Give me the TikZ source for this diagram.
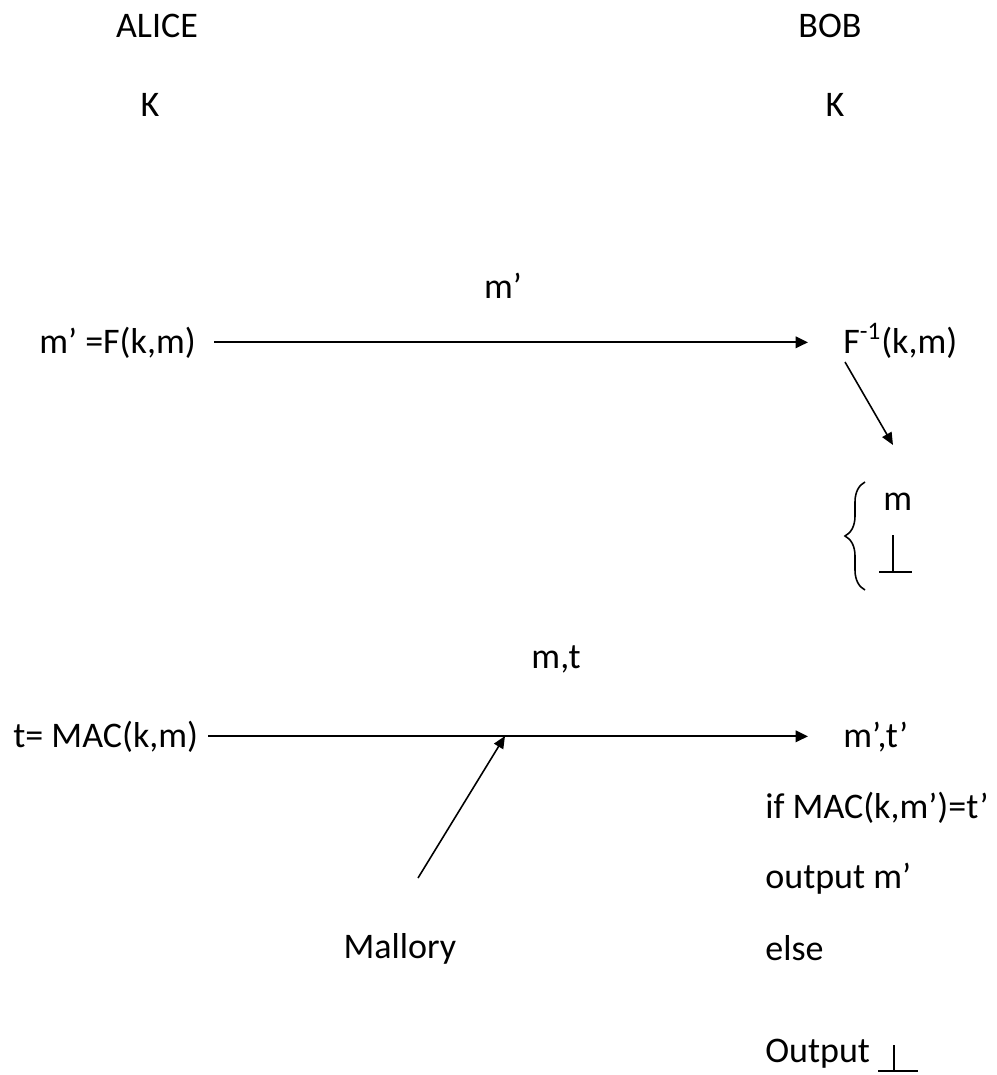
\documentclass[tikz,border=0pt]{standalone}
\usepackage{fontspec}
\setmainfont{Carlito}
\usetikzlibrary{arrows.meta, positioning, decorations.pathreplacing}

\begin{document}
\begin{tikzpicture}[x=0.02cm, y=-0.02cm,
  lbl/.style={font=\fontsize{20.5}{24}\selectfont, inner sep=0pt, anchor=base},
  arr/.style={-{Triangle[length=7pt,width=6.5pt]}, line width=1.2pt},
  thinarr/.style={-{Triangle[length=7pt,width=6pt]}, line width=0.9pt},
  brace/.style={decorate, decoration={brace, amplitude=0.4cm}, line width=0.9pt},
  perp/.style={line width=0.9pt},
]
\useasboundingbox (0,0) rectangle (997,1075);

%% Parties and shared key
\node[lbl] (alice) at (157,37) {ALICE};
\node[lbl] (bob)   at (830,37) {BOB};
\node[lbl] (keyA)  at (150,116) {K};
\node[lbl] (keyB)  at (835,116) {K};

%% Encryption only
\node[lbl] (ctxt) at (503,298) {m’};
\node[lbl, anchor=base west] (enc) at (39,353) {m’ =F(k,m)};
\node[lbl, anchor=base west] (dec) at (843,353) {F\textsuperscript{-1}(k,m)};
\draw[arr, shorten <=0.36cm, shorten >=0.7cm] (enc) -- (enc -| dec.west);

\coordinate (dtop) at (845,362);
\coordinate (dbot) at (893,445);
\draw[thinarr] (dtop) -- (dbot);

\node[lbl, anchor=base west] (res) at (883,510) {m};
\draw[brace] (865,590) -- (865,482);
\draw[perp] (893,535) -- (893,572) (879,572) -- (912,572);

%% MAC
\node[lbl] (tag) at (556,668) {m,t};
\node[lbl, anchor=base west] (mac) at (13,747) {t= MAC(k,m)};
\node[lbl, anchor=base west] (rcv) at (843,747) {m’,t’};
\draw[arr, shorten <=0.2cm, shorten >=0.7cm] (mac) -- (mac -| rcv.west);

\node[lbl] (mallory) at (400,958) {Mallory};
\coordinate (mstart) at (418,878);
\coordinate (tap) at (505,736);
\draw[thinarr] (mstart) -- (tap);

%% Bob's verification
\node[lbl, anchor=base west] (check) at (765,818) {if MAC(k,m’)=t’};
\node[lbl, anchor=base west] (out1)  at (765,888) {output m’};
\node[lbl, anchor=base west] (other) at (765,960) {else};
\node[lbl, anchor=base west] (out2)  at (765,1062) {Output};
\draw[perp] (894,1045) -- (894,1071) (878,1071) -- (918,1071);
\end{tikzpicture}
\end{document}
